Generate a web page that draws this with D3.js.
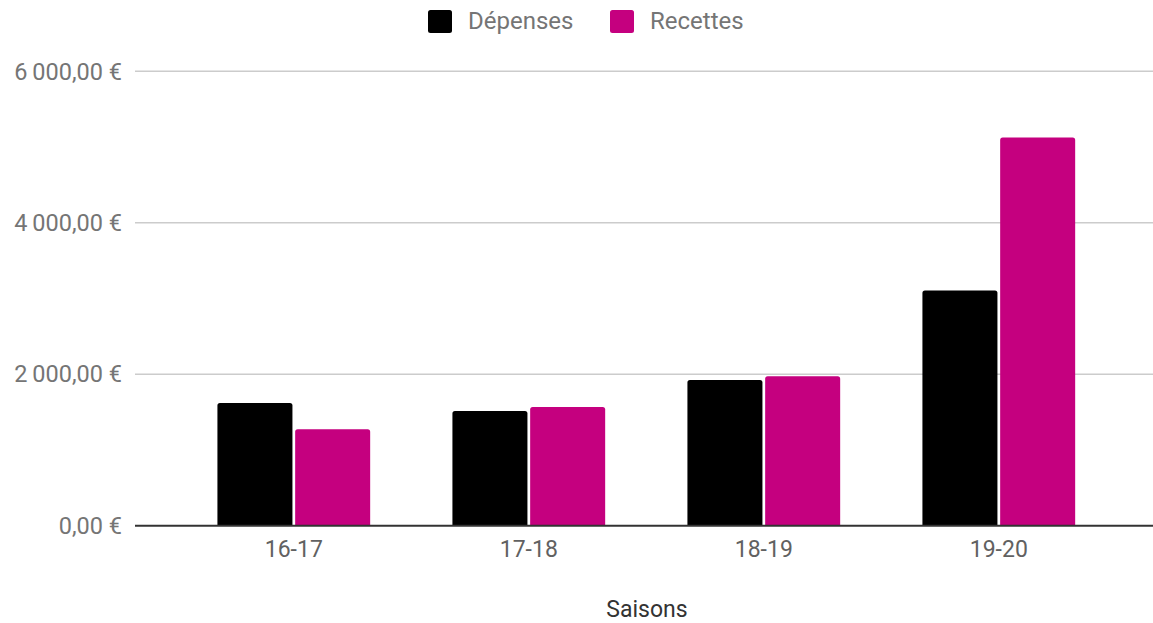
<!DOCTYPE html>
<html>
<head>
<meta charset="utf-8">
<script src="https://cdn.jsdelivr.net/npm/d3@7"></script>
<style>
  body { margin: 0; background: #fff; }
  text { font-family: Roboto, "Noto Sans", sans-serif; }
</style>
</head>
<body>
<div id="chart"></div>
<script>
// data
const seasons = ["16-17", "17-18", "18-19", "19-20"];
const seriesNames = ["Dépenses", "Recettes"];
const depenses = [1620, 1514, 1923, 3107];
const recettes = [1273, 1567, 1972, 5125];
const yTicks = [0, 2000, 4000, 6000];
const colors = ["#000000", "#c5007f"];

const width = 1153, height = 623;
const gridLeft = 135, gridRight = 1153;

const fr = d3.formatLocale({
  decimal: ",",
  thousands: "\u2009",
  grouping: [3],
  currency: ["", "\u00a0€"]
});
const fmt = fr.format("$,.2f");

const svg = d3.select("#chart").append("svg")
  .attr("width", width).attr("height", height);

const y = d3.scaleLinear().domain([0, 6000]).range([525.7, 71.3]);
const x0 = d3.scaleBand().domain(seasons).range([176.3, 1116.3])
  .paddingInner(0.35).paddingOuter(0.175);
const x1 = d3.scaleBand().domain(seriesNames).range([0, x0.bandwidth()])
  .paddingInner(0.035);

// grid lines
svg.append("g").selectAll("line")
  .data(yTicks.filter(d => d > 0))
  .join("line")
  .attr("x1", gridLeft).attr("x2", gridRight)
  .attr("y1", d => y(d)).attr("y2", d => y(d))
  .attr("stroke", "#cccccc").attr("stroke-width", 1.5);

// y labels
svg.append("g").selectAll("text")
  .data(yTicks)
  .join("text")
  .attr("x", 122).attr("y", d => y(d))
  .attr("dy", "0.35em")
  .attr("text-anchor", "end")
  .attr("fill", "#757575")
  .style("font-size", "23.5px")
  .text(d => fmt(d));

// bars
const rows = seasons.map((s, i) => ({ season: s, values: [depenses[i], recettes[i]] }));
const groups = svg.append("g").selectAll("g")
  .data(rows)
  .join("g")
  .attr("transform", d => `translate(${x0(d.season)},0)`);

groups.selectAll("path")
  .data(d => d.values.map((v, j) => ({ name: seriesNames[j], v: v, j: j })))
  .join("path")
  .attr("fill", d => colors[d.j])
  .attr("d", d => {
    const bx = x1(d.name), bw = x1.bandwidth();
    const top = y(d.v), bot = y(0), r = 2.5;
    return `M${bx},${bot}V${top + r}Q${bx},${top} ${bx + r},${top}H${bx + bw - r}Q${bx + bw},${top} ${bx + bw},${top + r}V${bot}Z`;
  });

// baseline
svg.append("line")
  .attr("x1", gridLeft).attr("x2", gridRight)
  .attr("y1", y(0)).attr("y2", y(0))
  .attr("stroke", "#333333").attr("stroke-width", 2);

// x labels
svg.append("g").selectAll("text")
  .data(seasons)
  .join("text")
  .attr("x", d => x0(d) + x0.bandwidth() / 2)
  .attr("y", 557)
  .attr("text-anchor", "middle")
  .attr("fill", "#616161")
  .style("font-size", "23px")
  .text(d => d);

// axis title
svg.append("text")
  .attr("x", 647).attr("y", 617)
  .attr("text-anchor", "middle")
  .attr("fill", "#333333")
  .style("font-size", "23px")
  .text("Saisons");

// legend
const legendX = [428, 610];
const legend = svg.append("g").selectAll("g")
  .data(seriesNames)
  .join("g")
  .attr("transform", (d, i) => `translate(${legendX[i]},10)`);
legend.append("rect")
  .attr("width", 24).attr("height", 23).attr("rx", 2.5)
  .attr("fill", (d, i) => colors[i]);
legend.append("text")
  .attr("x", 40).attr("y", 18.5)
  .attr("fill", "#757575")
  .style("font-size", "24px")
  .text(d => d);
</script>
</body>
</html>
